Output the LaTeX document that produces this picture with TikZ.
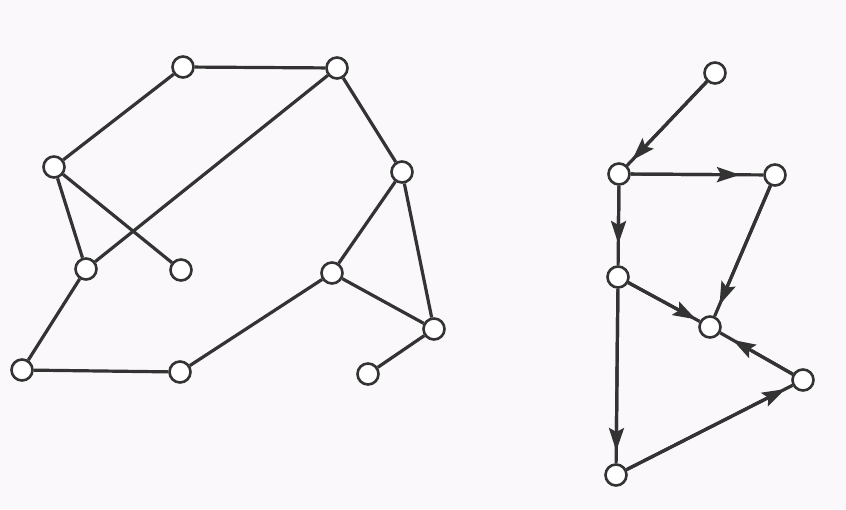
\documentclass[tikz,border=0pt]{standalone}
\usetikzlibrary{arrows.meta,calc}
\definecolor{bg}{HTML}{FAF8FA}
\definecolor{ink}{HTML}{333333}
\tikzset{
  vtx/.style={circle,draw=ink,fill=white,line width=2.6pt,minimum size=21pt,inner sep=0pt},
  edge/.style={draw=ink,line width=3.2pt},
  arr/.style={draw=ink,line width=3.2pt,-{Stealth[length=23pt,width=15pt,inset=4pt]}}
}
\begin{document}
\begin{tikzpicture}[x=1pt,y=-1pt]
\fill[bg] (0,0) rectangle (846,509);
\useasboundingbox (0,0) rectangle (846,509);
% left graph
\node[vtx] (A) at (183,67) {};
\node[vtx] (B) at (337,68) {};
\node[vtx] (C) at (54,167) {};
\node[vtx] (D) at (402,172) {};
\node[vtx] (E) at (86,269) {};
\node[vtx] (F) at (181,270) {};
\node[vtx] (G) at (332,273) {};
\node[vtx] (H) at (434,329) {};
\node[vtx] (I) at (22,370) {};
\node[vtx] (J) at (180,372) {};
\node[vtx] (K) at (368,374) {};
\draw[edge] (A) -- (B);
\draw[edge] (A) -- (C);
\draw[edge] (C) -- (E);
\draw[edge] (C) -- (F);
\draw[edge] (E) -- (B);
\draw[edge] (E) -- (I);
\draw[edge] (I) -- (J);
\draw[edge] (J) -- (G);
\draw[edge] (G) -- (D);
\draw[edge] (D) -- (B);
\draw[edge] (D) -- (H);
\draw[edge] (G) -- (H);
\draw[edge] (H) -- (K);
% right graph
\node[vtx] (P) at (715,73) {};
\node[vtx] (Q) at (619,174) {};
\node[vtx] (R) at (775,175) {};
\node[vtx] (S) at (618,277) {};
\node[vtx] (T) at (710,327) {};
\node[vtx] (U) at (803,380) {};
\node[vtx] (V) at (616,475) {};
\draw[edge] (P) -- (Q);
\draw[arr] (P) -- ($(Q)!19pt!(P)$);
\draw[edge] (Q) -- (R);
\draw[arr] (Q) -- ($(R)!35pt!(Q)$);
\draw[edge] (Q) -- (S);
\draw[arr] (Q) -- ($(S)!33pt!(Q)$);
\draw[edge] (R) -- (T);
\draw[arr] (R) -- ($(T)!24pt!(R)$);
\draw[edge] (S) -- (T);
\draw[arr] (S) -- ($(T)!16pt!(S)$);
\draw[edge] (U) -- (T);
\draw[arr] (U) -- ($(T)!26pt!(U)$);
\draw[edge] (S) -- (V);
\draw[arr] (S) -- ($(V)!24pt!(S)$);
\draw[edge] (V) -- (U);
\draw[arr] (V) -- ($(U)!20pt!(V)$);
\end{tikzpicture}
\end{document}
